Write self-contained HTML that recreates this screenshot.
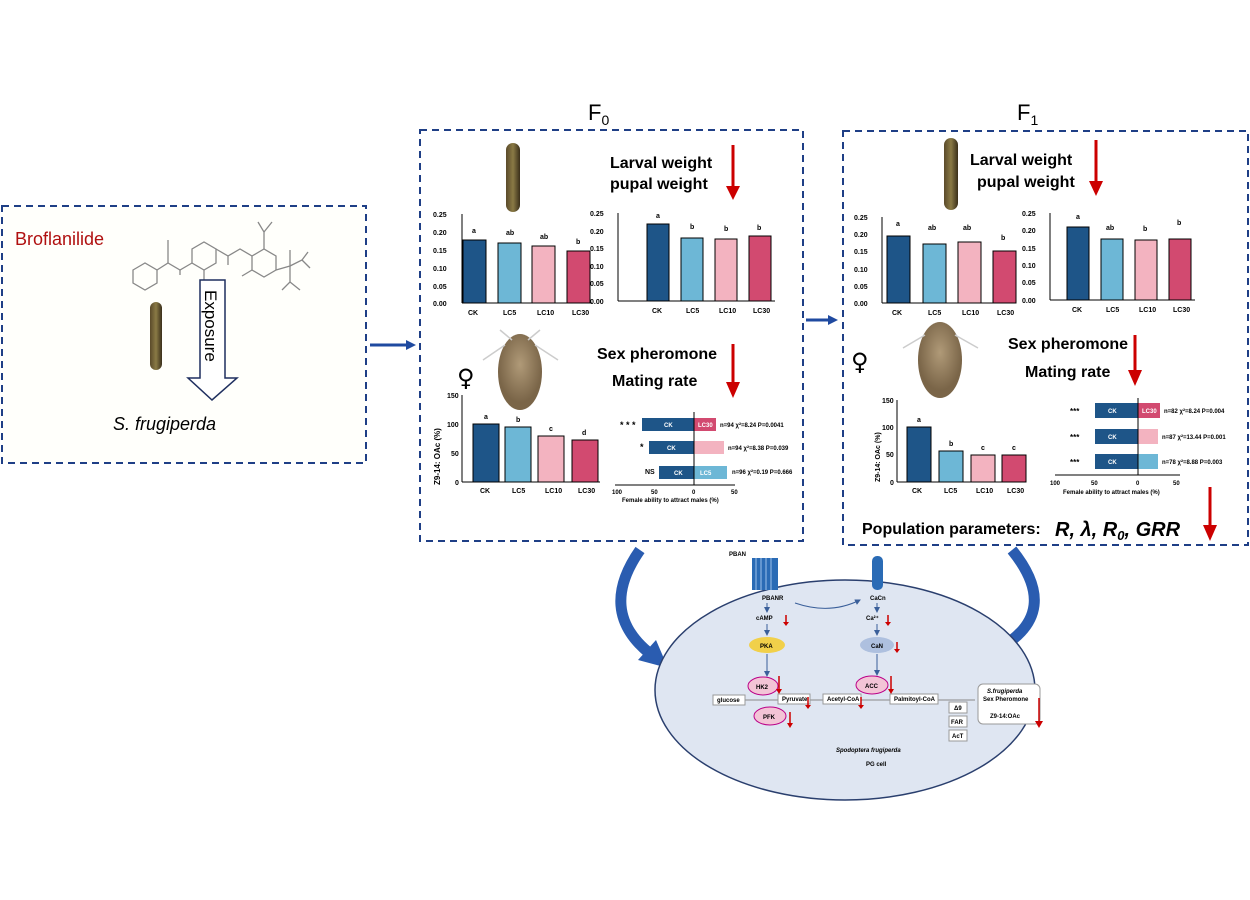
<!DOCTYPE html>
<html><head><meta charset="utf-8"><style>
body{margin:0;background:#fff;}
svg{display:block;font-family:"Liberation Sans",sans-serif;}
.b{font-weight:bold}
.fem{font-family:"DejaVu Sans",sans-serif;}
</style></head><body>
<svg width="1250" height="900" viewBox="0 0 1250 900" xmlns="http://www.w3.org/2000/svg">
<defs>
<marker id="ah" markerWidth="6" markerHeight="6" refX="5" refY="3" orient="auto"><path d="M0,0L6,3L0,6z" fill="#3a5f9a"/></marker>
<linearGradient id="lv" x1="0" x2="1"><stop offset="0" stop-color="#5a4a2a"/><stop offset=".5" stop-color="#8a7a45"/><stop offset="1" stop-color="#3a2f1a"/></linearGradient>
<radialGradient id="mo" cx=".5" cy=".4"><stop offset="0" stop-color="#b09a78"/><stop offset="1" stop-color="#7a6548"/></radialGradient>
</defs>

<rect x="2" y="206" width="364" height="257" fill="#fffffb" stroke="#1f3f86" stroke-width="2" stroke-dasharray="7,5"/>
<text x="15" y="245" font-size="18" fill="#b01010">Broflanilide</text>
<g stroke="#888" stroke-width="1.3" fill="none">
<polygon points="133,270 145,263 157,270 157,283 145,290 133,283"/>
<polyline points="157,270 168,263 180,270 192,263"/>
<line x1="168" y1="263" x2="168" y2="240"/>
<polyline points="180,270 180,275"/>
<polygon points="192,263 192,249 204,242 216,249 216,263 204,270"/>
<polyline points="204,270 204,280"/>
<polyline points="216,249 228,256 228,265"/>
<polyline points="228,256 240,249 252,256"/>
<polygon points="252,256 264,249 276,256 276,270 264,277 252,270"/>
<polyline points="264,249 264,232 258,222"/>
<polyline points="264,232 272,222"/>
<polyline points="252,270 242,276"/>
<polyline points="276,270 290,266 290,250"/>
<polyline points="290,266 302,260 308,252"/>
<polyline points="290,266 290,282 282,290"/>
<polyline points="290,282 300,290"/>
<polyline points="302,260 310,268"/>
</g>
<rect x="150" y="302" width="12" height="68" rx="6" fill="url(#lv)"/>
<path d="M200,280 H225 V378 H237 L212,400 L188,378 H200 Z" fill="#fff" stroke="#1f2f5f" stroke-width="1.5"/>
<text transform="translate(205,290) rotate(90)" font-size="17" fill="#000">Exposure</text>
<text x="113" y="430" font-size="18" font-style="italic">S. frugiperda</text>

<line x1="370" y1="345" x2="408" y2="345" stroke="#1f4aa0" stroke-width="3"/>
<path d="M406,340 L416,345 L406,350z" fill="#1f4aa0"/>
<line x1="806" y1="320" x2="830" y2="320" stroke="#1f4aa0" stroke-width="3"/>
<path d="M828,315 L838,320 L828,325z" fill="#1f4aa0"/>

<text x="588" y="120" font-size="22">F<tspan font-size="14" dy="5">0</tspan></text>
<text x="1017" y="120" font-size="22">F<tspan font-size="14" dy="5">1</tspan></text>

<rect x="420" y="130" width="383" height="411" fill="#fff" stroke="#1f3f86" stroke-width="2" stroke-dasharray="7,5"/>
<rect x="506" y="143" width="14" height="69" rx="7" fill="url(#lv)"/>
<text x="610" y="168" font-size="16" class="b">Larval  weight</text>
<text x="610" y="189" font-size="16" class="b">pupal weight</text>
<line x1="733" y1="145" x2="733" y2="188" stroke="#c00" stroke-width="3"/><path d="M726,186 L740,186 L733,200z" fill="#c00"/>

<g font-size="7" class="b">
<line x1="462" y1="214" x2="462" y2="303" stroke="#000"/><line x1="462" y1="303" x2="592" y2="303" stroke="#000"/>
<text x="433" y="217">0.25</text><text x="433" y="235">0.20</text><text x="433" y="253">0.15</text><text x="433" y="271">0.10</text><text x="433" y="289">0.05</text><text x="433" y="306">0.00</text>
<rect x="463" y="240" width="23" height="63" fill="#1e5588" stroke="#000"/>
<rect x="498" y="243" width="23" height="60" fill="#6db7d6" stroke="#000"/>
<rect x="532" y="246" width="23" height="57" fill="#f3b3c0" stroke="#000"/>
<rect x="567" y="251" width="23" height="52" fill="#d24a70" stroke="#000"/>
<text x="472" y="233">a</text><text x="506" y="235">ab</text><text x="540" y="239">ab</text><text x="576" y="244">b</text>
<text x="468" y="315">CK</text><text x="503" y="315">LC5</text><text x="537" y="315">LC10</text><text x="572" y="315">LC30</text>
</g>
<g font-size="7" class="b">
<line x1="618" y1="213" x2="618" y2="301" stroke="#000"/><line x1="618" y1="301" x2="775" y2="301" stroke="#000"/>
<text x="590" y="216">0.25</text><text x="590" y="234">0.20</text><text x="590" y="251">0.15</text><text x="590" y="269">0.10</text><text x="590" y="286">0.05</text><text x="590" y="304">0.00</text>
<rect x="647" y="224" width="22" height="77" fill="#1e5588" stroke="#000"/>
<rect x="681" y="238" width="22" height="63" fill="#6db7d6" stroke="#000"/>
<rect x="715" y="239" width="22" height="62" fill="#f3b3c0" stroke="#000"/>
<rect x="749" y="236" width="22" height="65" fill="#d24a70" stroke="#000"/>
<text x="656" y="218">a</text><text x="690" y="229">b</text><text x="724" y="231">b</text><text x="757" y="230">b</text>
<text x="652" y="313">CK</text><text x="686" y="313">LC5</text><text x="719" y="313">LC10</text><text x="753" y="313">LC30</text>
</g>

<ellipse cx="520" cy="372" rx="22" ry="38" fill="url(#mo)"/>
<path d="M505,345 L483,360 M535,345 L558,360 M512,340 L500,330 M528,340 L540,330" stroke="#ccc" stroke-width="1.5"/>
<text x="457" y="386" font-size="24" class="fem">♀</text>
<text x="597" y="359" font-size="16" class="b">Sex pheromone</text>
<text x="612" y="386" font-size="16" class="b">Mating rate</text>
<line x1="733" y1="344" x2="733" y2="384" stroke="#c00" stroke-width="3"/><path d="M726,382 L740,382 L733,398z" fill="#c00"/>

<g font-size="7" class="b">
<line x1="462" y1="395" x2="462" y2="482" stroke="#000"/><line x1="462" y1="482" x2="600" y2="482" stroke="#000"/>
<text x="447" y="398">150</text><text x="447" y="427">100</text><text x="451" y="456">50</text><text x="455" y="485">0</text>
<text transform="translate(440,485) rotate(-90)" font-size="8">Z9-14: OAc (%)</text>
<rect x="473" y="424" width="26" height="58" fill="#1e5588" stroke="#000"/>
<rect x="505" y="427" width="26" height="55" fill="#6db7d6" stroke="#000"/>
<rect x="538" y="436" width="26" height="46" fill="#f3b3c0" stroke="#000"/>
<rect x="572" y="440" width="26" height="42" fill="#d24a70" stroke="#000"/>
<text x="484" y="419">a</text><text x="516" y="422">b</text><text x="549" y="431">c</text><text x="582" y="435">d</text>
<text x="480" y="493">CK</text><text x="512" y="493">LC5</text><text x="545" y="493">LC10</text><text x="578" y="493">LC30</text>
</g>
<g font-size="6" class="b">
<rect x="642" y="418" width="52" height="13" fill="#1e5588"/><rect x="694" y="418" width="22" height="13" fill="#d24a70"/>
<rect x="649" y="441" width="45" height="13" fill="#1e5588"/><rect x="694" y="441" width="30" height="13" fill="#f3b3c0"/>
<rect x="659" y="466" width="35" height="13" fill="#1e5588"/><rect x="694" y="466" width="33" height="13" fill="#6db7d6"/>
<line x1="694" y1="412" x2="694" y2="485" stroke="#000"/>
<line x1="615" y1="485" x2="735" y2="485" stroke="#000"/>
<text x="664" y="427" fill="#fff">CK</text><text x="667" y="450" fill="#fff">CK</text><text x="674" y="475" fill="#fff">CK</text>
<text x="698" y="427" fill="#fff">LC30</text><text x="700" y="475" fill="#fff">LC5</text>
<text x="620" y="428" font-size="9">* * *</text><text x="640" y="450" font-size="9">*</text><text x="645" y="474" font-size="7">NS</text>
<text x="720" y="427">n=94 χ²=8.24 P=0.0041</text><text x="728" y="450">n=94 χ²=8.38 P=0.039</text><text x="732" y="474">n=96 χ²=0.19 P=0.666</text>
<text x="612" y="494">100</text><text x="651" y="494">50</text><text x="692" y="494">0</text><text x="731" y="494">50</text>
<text x="622" y="502">Female ability to attract males (%)</text>
</g>

<rect x="843" y="131" width="405" height="414" fill="#fff" stroke="#1f3f86" stroke-width="2" stroke-dasharray="7,5"/>
<rect x="944" y="138" width="14" height="72" rx="7" fill="url(#lv)"/>
<text x="970" y="165" font-size="16" class="b">Larval  weight</text>
<text x="977" y="187" font-size="16" class="b">pupal weight</text>
<line x1="1096" y1="140" x2="1096" y2="183" stroke="#c00" stroke-width="3"/><path d="M1089,181 L1103,181 L1096,196z" fill="#c00"/>
<g font-size="7" class="b">
<line x1="882" y1="217" x2="882" y2="303" stroke="#000"/><line x1="882" y1="303" x2="1015" y2="303" stroke="#000"/>
<text x="854" y="220">0.25</text><text x="854" y="237">0.20</text><text x="854" y="254">0.15</text><text x="854" y="272">0.10</text><text x="854" y="289">0.05</text><text x="854" y="306">0.00</text>
<rect x="887" y="236" width="23" height="67" fill="#1e5588" stroke="#000"/>
<rect x="923" y="244" width="23" height="59" fill="#6db7d6" stroke="#000"/>
<rect x="958" y="242" width="23" height="61" fill="#f3b3c0" stroke="#000"/>
<rect x="993" y="251" width="23" height="52" fill="#d24a70" stroke="#000"/>
<text x="896" y="226">a</text><text x="928" y="230">ab</text><text x="963" y="230">ab</text><text x="1001" y="240">b</text>
<text x="892" y="315">CK</text><text x="928" y="315">LC5</text><text x="962" y="315">LC10</text><text x="997" y="315">LC30</text>
</g>
<g font-size="7" class="b">
<line x1="1050" y1="213" x2="1050" y2="300" stroke="#000"/><line x1="1050" y1="300" x2="1195" y2="300" stroke="#000"/>
<text x="1022" y="216">0.25</text><text x="1022" y="233">0.20</text><text x="1022" y="251">0.15</text><text x="1022" y="268">0.10</text><text x="1022" y="285">0.05</text><text x="1022" y="303">0.00</text>
<rect x="1067" y="227" width="22" height="73" fill="#1e5588" stroke="#000"/>
<rect x="1101" y="239" width="22" height="61" fill="#6db7d6" stroke="#000"/>
<rect x="1135" y="240" width="22" height="60" fill="#f3b3c0" stroke="#000"/>
<rect x="1169" y="239" width="22" height="61" fill="#d24a70" stroke="#000"/>
<text x="1076" y="219">a</text><text x="1106" y="230">ab</text><text x="1143" y="231">b</text><text x="1177" y="225">b</text>
<text x="1072" y="312">CK</text><text x="1106" y="312">LC5</text><text x="1139" y="312">LC10</text><text x="1173" y="312">LC30</text>
</g>
<ellipse cx="940" cy="360" rx="22" ry="38" fill="url(#mo)"/>
<path d="M925,335 L903,348 M955,335 L978,348" stroke="#ccc" stroke-width="1.5"/>
<text x="851" y="370" font-size="24" class="fem">♀</text>
<text x="1008" y="349" font-size="16" class="b">Sex pheromone</text>
<text x="1025" y="377" font-size="16" class="b">Mating rate</text>
<line x1="1135" y1="335" x2="1135" y2="372" stroke="#c00" stroke-width="3"/><path d="M1128,370 L1142,370 L1135,386z" fill="#c00"/>
<g font-size="7" class="b">
<line x1="897" y1="400" x2="897" y2="482" stroke="#000"/><line x1="897" y1="482" x2="1025" y2="482" stroke="#000"/>
<text x="882" y="403">150</text><text x="882" y="430">100</text><text x="886" y="457">50</text><text x="890" y="485">0</text>
<text transform="translate(880,482) rotate(-90)" font-size="7">Z9-14: OAc (%)</text>
<rect x="907" y="427" width="24" height="55" fill="#1e5588" stroke="#000"/>
<rect x="939" y="451" width="24" height="31" fill="#6db7d6" stroke="#000"/>
<rect x="971" y="455" width="24" height="27" fill="#f3b3c0" stroke="#000"/>
<rect x="1002" y="455" width="24" height="27" fill="#d24a70" stroke="#000"/>
<text x="917" y="422">a</text><text x="949" y="446">b</text><text x="981" y="450">c</text><text x="1012" y="450">c</text>
<text x="912" y="493">CK</text><text x="944" y="493">LC5</text><text x="976" y="493">LC10</text><text x="1007" y="493">LC30</text>
</g>
<g font-size="6" class="b">
<rect x="1095" y="403" width="43" height="15" fill="#1e5588"/><rect x="1138" y="403" width="22" height="15" fill="#d24a70"/>
<rect x="1095" y="429" width="43" height="15" fill="#1e5588"/><rect x="1138" y="429" width="20" height="15" fill="#f3b3c0"/>
<rect x="1095" y="454" width="43" height="15" fill="#1e5588"/><rect x="1138" y="454" width="20" height="15" fill="#6db7d6"/>
<line x1="1138" y1="398" x2="1138" y2="475" stroke="#000"/>
<line x1="1055" y1="475" x2="1180" y2="475" stroke="#000"/>
<text x="1108" y="413" fill="#fff">CK</text><text x="1108" y="439" fill="#fff">CK</text><text x="1108" y="464" fill="#fff">CK</text>
<text x="1142" y="413" fill="#fff">LC30</text>
<text x="1070" y="414" font-size="8">***</text><text x="1070" y="440" font-size="8">***</text><text x="1070" y="465" font-size="8">***</text>
<text x="1164" y="413">n=82 χ²=8.24 P=0.004</text><text x="1162" y="439">n=87 χ²=13.44 P=0.001</text><text x="1162" y="464">n=78 χ²=8.88 P=0.003</text>
<text x="1050" y="485">100</text><text x="1091" y="485">50</text><text x="1136" y="485">0</text><text x="1173" y="485">50</text>
<text x="1063" y="494">Female ability to attract males (%)</text>
</g>
<text x="862" y="534" font-size="16" class="b">Population parameters:</text>
<text x="1055" y="536" font-size="20" class="b" font-style="italic">R,  λ,  R<tspan font-size="13" dy="4">0</tspan><tspan dy="-4">,  GRR</tspan></text>
<line x1="1210" y1="487" x2="1210" y2="527" stroke="#c00" stroke-width="3"/><path d="M1203,525 L1217,525 L1210,541z" fill="#c00"/>

<!-- curved arrows -->
<path d="M640,550 Q598,610 648,652" fill="none" stroke="#2a5cb0" stroke-width="11"/>
<path d="M638,660 L668,668 L656,640 Z" fill="#2a5cb0"/>
<path d="M1012,550 Q1062,612 1000,648" fill="none" stroke="#2a5cb0" stroke-width="11"/>
<path d="M1008,634 L978,657 L1012,664 Z" fill="#2a5cb0"/>

<ellipse cx="845" cy="690" rx="190" ry="110" fill="#dfe6f2" stroke="#2a3f6e" stroke-width="1.5"/>
<rect x="752" y="558" width="26" height="32" fill="#2a6bb5"/>
<path d="M756,558V590M761,558V590M766,558V590M771,558V590" stroke="#9cc0ea" stroke-width="1"/>
<rect x="872" y="556" width="11" height="34" rx="5" fill="#2a6bb5"/>
<path d="M795,603 Q830,615 860,600" fill="none" stroke="#3a5f9a" marker-end="url(#ah)"/>
<g font-size="6" class="b">
<text x="729" y="556">PBAN</text>
<text x="762" y="600">PBANR</text><text x="870" y="600">CaCn</text>
<text x="756" y="620">cAMP</text><text x="866" y="620">Ca²⁺</text>
<ellipse cx="767" cy="645" rx="18" ry="8" fill="#f1d04a"/><text x="760" y="648">PKA</text>
<ellipse cx="877" cy="645" rx="17" ry="8" fill="#aec0df"/><text x="871" y="648">CaN</text>
<ellipse cx="763" cy="686" rx="15" ry="9" fill="#f3c4d6" stroke="#b08"/><text x="756" y="689">HK2</text>
<ellipse cx="872" cy="685" rx="16" ry="9" fill="#f3c4d6" stroke="#b08"/><text x="865" y="688">ACC</text>
<ellipse cx="770" cy="716" rx="16" ry="9" fill="#f3c4d6" stroke="#b08"/><text x="763" y="719">PFK</text>
<line x1="713" y1="700" x2="975" y2="700" stroke="#888"/>
<rect x="713" y="695" width="32" height="10" fill="#fff" stroke="#999"/><text x="717" y="702">glucose</text>
<rect x="778" y="694" width="32" height="10" fill="#fff" stroke="#999"/><text x="782" y="701">Pyruvate</text>
<rect x="823" y="694" width="38" height="10" fill="#fff" stroke="#999"/><text x="827" y="701">Acetyl-CoA</text>
<rect x="890" y="694" width="48" height="10" fill="#fff" stroke="#999"/><text x="894" y="701">Palmitoyl-CoA</text>
<rect x="949" y="702" width="18" height="11" fill="#fff" stroke="#999"/><text x="954" y="710">Δ9</text>
<rect x="949" y="716" width="18" height="11" fill="#fff" stroke="#999"/><text x="951" y="724">FAR</text>
<rect x="949" y="730" width="18" height="11" fill="#fff" stroke="#999"/><text x="952" y="738">AcT</text>
<rect x="978" y="684" width="62" height="40" rx="5" fill="#fff" stroke="#999"/>
<text x="987" y="693" font-style="italic">S.frugiperda</text><text x="983" y="701">Sex Pheromone</text><text x="990" y="718">Z9-14:OAc</text>
<text x="836" y="752" font-style="italic">Spodoptera frugiperda</text><text x="866" y="766">PG cell</text>
</g>
<g stroke="#3a5f9a" stroke-width="1" marker-end="url(#ah)">
<line x1="767" y1="603" x2="767" y2="612"/><line x1="767" y1="624" x2="767" y2="635"/><line x1="767" y1="654" x2="767" y2="676"/>
<line x1="877" y1="603" x2="877" y2="612"/><line x1="877" y1="624" x2="877" y2="635"/><line x1="877" y1="654" x2="877" y2="675"/>
</g>
<g stroke="#c00" stroke-width="1.5">
<line x1="786" y1="615" x2="786" y2="623"/><line x1="888" y1="615" x2="888" y2="623"/><line x1="897" y1="642" x2="897" y2="650"/>
<line x1="779" y1="676" x2="779" y2="690"/><line x1="808" y1="697" x2="808" y2="706"/><line x1="861" y1="697" x2="861" y2="706"/>
<line x1="891" y1="676" x2="891" y2="690"/><line x1="790" y1="712" x2="790" y2="724"/><line x1="1039" y1="698" x2="1039" y2="722"/>
</g>
<g fill="#c00">
<path d="M783,622h6l-3,4z"/><path d="M885,622h6l-3,4z"/><path d="M894,649h6l-3,4z"/><path d="M776,689h6l-3,5z"/><path d="M805,705h6l-3,4z"/><path d="M858,705h6l-3,4z"/><path d="M888,689h6l-3,5z"/><path d="M787,723h6l-3,5z"/><path d="M1035,721h8l-4,7z"/>
</g>
</svg>
</body></html>
